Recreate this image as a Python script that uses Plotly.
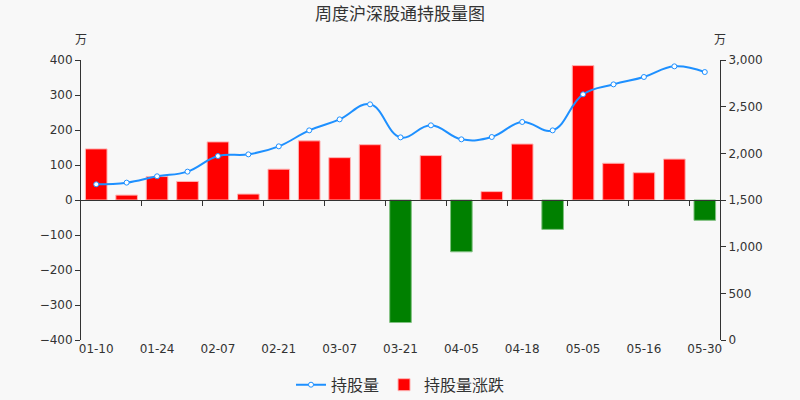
import plotly.graph_objects as go

dates = ["01-10", "01-17", "01-24", "01-31", "02-07", "02-14", "02-21", "02-28",
         "03-07", "03-14", "03-21", "03-28", "04-05", "04-11", "04-18", "04-25",
         "05-05", "05-09", "05-16", "05-23", "05-30"]
holdings = [1668, 1686, 1754, 1804, 1971, 1989, 2075, 2246, 2364, 2525, 2171,
            2300, 2150, 2175, 2336, 2246, 2632, 2739, 2818, 2932, 2871]
changes = [146, 14, 67, 53, 166, 17, 88, 169, 121, 158, -350,
           127, -148, 24, 160, -84, 384, 105, 78, 117, -58]
label_dates = dates[::2]

idx = list(range(len(dates)))
bar_colors = ["#ff0000" if v >= 0 else "#008000" for v in changes]
bar_lines = ["#ffb3b3" if v >= 0 else "#80c080" for v in changes]

font_cjk = "Noto Sans CJK SC, DejaVu Sans, sans-serif"
font_num = "DejaVu Sans, sans-serif"

fig = go.Figure()
fig.add_trace(go.Bar(
    x=idx, y=changes, name="持股量涨跌", width=0.71,
    marker=dict(color=bar_colors, line=dict(color=bar_lines, width=1)),
    yaxis="y", xaxis="x",
))
fig.add_trace(go.Scatter(
    x=idx, y=holdings, name="持股量", mode="lines+markers",
    line=dict(color="#1e90ff", width=2, shape="spline", smoothing=1.2),
    marker=dict(size=5, color="white", line=dict(color="#1e90ff", width=1)),
    yaxis="y2", xaxis="x",
))
# invisible trace so the zero-line axis (xaxis2) is rendered
fig.add_trace(go.Scatter(x=[0], y=[0], xaxis="x2", yaxis="y", mode="markers",
                         marker=dict(opacity=0), showlegend=False, hoverinfo="skip"))

fig.update_layout(
    width=800, height=400,
    margin=dict(l=81, r=80, t=60, b=60, autoexpand=False),
    paper_bgcolor="#f8f8f8", plot_bgcolor="#f8f8f8",
    title=dict(text="周度沪深股通持股量图", x=0.5, xanchor="center", y=1 - 14 / 400, yanchor="middle",
               font=dict(family=font_cjk, size=17, color="#333")),
    showlegend=True,
    legend=dict(orientation="h", x=0.5, xanchor="center", y=-0.16, yanchor="middle",
                font=dict(family=font_cjk, size=16, color="#333"), traceorder="reversed",
                bgcolor="rgba(0,0,0,0)"),
    xaxis=dict(range=[-0.5, len(dates) - 0.5], tickvals=idx[::2], ticktext=label_dates,
               showline=False, ticks="", showgrid=False, zeroline=False,
               tickfont=dict(family=font_num, size=12, color="#333")),
    xaxis2=dict(range=[-0.5, len(dates) - 0.5], overlaying="x", anchor="free", position=0.5,
                side="bottom", showline=True, linecolor="#333", linewidth=1,
                tickvals=[i + 0.5 for i in idx[1::2]], ticks="outside", ticklen=5,
                tickcolor="#333", showticklabels=False, showgrid=False, zeroline=False),
    yaxis=dict(range=[-400, 400], dtick=100, showline=True, linecolor="#333", linewidth=1,
               ticks="outside", ticklen=5, tickcolor="#333", showgrid=False, zeroline=False,
               tickfont=dict(family=font_num, size=12, color="#333")),
    yaxis2=dict(range=[0, 3000], dtick=500, overlaying="y", side="right", showline=True,
                linecolor="#333", linewidth=1, ticks="outside", ticklen=5, tickcolor="#333",
                showgrid=False, zeroline=False, tickformat=",",
                tickfont=dict(family=font_num, size=12, color="#333")),
    annotations=[
        dict(text="万", xref="paper", yref="paper", x=0, y=1.0, yshift=22, yanchor="middle",
             xanchor="center", showarrow=False,
             font=dict(family=font_cjk, size=12, color="#333")),
        dict(text="万", xref="paper", yref="paper", x=1, y=1.0, yshift=22, yanchor="middle",
             xanchor="center", showarrow=False,
             font=dict(family=font_cjk, size=12, color="#333")),
    ],
)

fig.write_html("out.html", config={"displayModeBar": False},
               post_script="document.body.style.margin='0';document.body.style.background='#f8f8f8';")
